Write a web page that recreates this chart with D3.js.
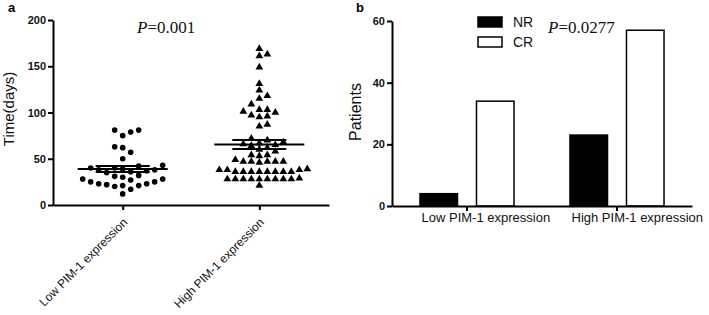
<!DOCTYPE html>
<html>
<head>
<meta charset="utf-8">
<script src="https://cdn.jsdelivr.net/npm/d3@7"></script>
<style>
body { margin: 0; background: #fff; }
</style>
</head>
<body>
<script>
var width = 709, height = 315;

var groups = ["Low PIM-1 expression", "High PIM-1 expression"];
// time (days), panel a
var lowTimes = [81, 79, 75, 81, 57, 62, 63, 50, 43, 42, 40, 40, 39, 38, 38, 37, 36, 35,
    32, 30, 31, 28, 28, 27, 25, 25, 23, 23, 22, 21, 21, 20, 17, 12];
var highTimes = [169, 163, 161, 149, 131, 124, 118, 115, 109, 103, 103, 101, 100, 97, 96, 95, 87, 85,
    72, 70, 68, 67, 66, 65, 64, 62, 60, 58,
    54, 54, 53, 49, 47, 47, 47, 47, 47, 46,
    39, 38, 38, 36, 36, 36, 36, 36, 36, 36, 36, 38,
    29, 28, 28, 28, 28, 28, 28, 28, 28, 28, 21];
var yTicksA = [0, 50, 100, 150, 200];

// patients, panel b
var responses = ["NR", "CR"];
var nrCounts = [4, 23];
var crCounts = [34, 57];
var yTicksB = [0, 20, 40, 60];

var sans = "'Liberation Sans', Arial, sans-serif";
var narrow = "'Liberation Sans Narrow', 'Liberation Sans', sans-serif";
var serif = "'Liberation Serif', 'Times New Roman', serif";

var svg = d3.select("body").append("svg")
    .attr("width", width)
    .attr("height", height)
    .style("font-family", sans);

// ---------- panel a ----------
var xA = d3.scalePoint().domain(groups).range([53, 329]).padding(0.51);
var yA = d3.scaleLinear().domain([0, 200]).range([205, 20]);

var gA = svg.append("g");

gA.append("text").text("a")
    .attr("x", 8).attr("y", 12)
    .style("font-size", "13px").style("font-weight", "bold");

gA.append("text").text("Time(days)")
    .attr("transform", "translate(14,109) rotate(-90)")
    .attr("text-anchor", "middle")
    .style("font-family", narrow)
    .style("font-size", "15px")
    .attr("fill", "#111");

var pA = gA.append("text")
    .attr("x", 137).attr("y", 33)
    .style("font-family", serif)
    .style("font-size", "17px")
    .attr("fill", "#111");
pA.append("tspan").text("P").style("font-style", "italic");
pA.append("tspan").text("=0.001");

var yAxisA = gA.append("g")
    .attr("transform", "translate(53,0)")
    .call(d3.axisLeft(yA).tickValues(yTicksA).tickSize(5).tickSizeOuter(0).tickPadding(2));

var xAxisA = gA.append("g")
    .attr("transform", "translate(0,205)")
    .call(d3.axisBottom(xA).tickSize(5).tickSizeOuter(0));

xAxisA.selectAll("text")
    .attr("x", 0).attr("y", 0).attr("dy", 0)
    .attr("text-anchor", "end")
    .style("font-size", "12px")
    .attr("transform", "translate(5,18) rotate(-45)");

// simple beeswarm: spread points sideways until they stop overlapping
function swarm(values, cx, gapX, gapY) {
    var placed = [];
    var order = d3.range(values.length).sort(function(a, b) { return values[a] - values[b]; });
    order.forEach(function(i) {
        var py = yA(values[i]);
        for (var k = 0; ; k++) {
            var off = (k % 2 ? 1 : -1) * Math.ceil(k / 2) * gapX;
            var ok = placed.every(function(p) {
                return Math.abs(p.x - (cx + off)) >= gapX || Math.abs(p.y - py) >= gapY;
            });
            if (ok) { placed.push({x: cx + off, y: py}); break; }
        }
    });
    return placed;
}

var lowPts = swarm(lowTimes, xA(groups[0]), 8, 8);
var highPts = swarm(highTimes, xA(groups[1]), 8, 6);

gA.selectAll("circle.low")
    .data(lowPts)
    .enter().append("circle")
        .attr("class", "low")
        .attr("cx", function(d) { return d.x; })
        .attr("cy", function(d) { return d.y; })
        .attr("r", 2.8)
        .attr("fill", "#000");

gA.selectAll("path.high")
    .data(highPts)
    .enter().append("path")
        .attr("class", "high")
        .attr("d", d3.symbol().type(d3.symbolTriangle).size(26))
        .attr("transform", function(d) { return "translate(" + d.x + "," + d.y + ")"; })
        .attr("fill", "#000");

// mean +/- SEM
[lowTimes, highTimes].forEach(function(vals, i) {
    var cx = xA(groups[i]);
    var m = d3.mean(vals);
    var sem = d3.deviation(vals) / Math.sqrt(vals.length);
    var g = gA.append("g").attr("stroke", "#000").attr("stroke-width", 2);
    g.append("line")
        .attr("x1", cx - 45).attr("x2", cx + 45)
        .attr("y1", yA(m)).attr("y2", yA(m));
    g.append("line")
        .attr("x1", cx).attr("x2", cx)
        .attr("y1", yA(m - sem)).attr("y2", yA(m + sem));
    [m - sem, m + sem].forEach(function(v) {
        g.append("line")
            .attr("x1", cx - 27).attr("x2", cx + 27)
            .attr("y1", yA(v)).attr("y2", yA(v));
    });
});

// ---------- panel b ----------
var x0 = d3.scaleBand().domain(groups).range([392, 692]);
var x1 = d3.scaleBand().domain(responses).range([0, x0.bandwidth()])
    .paddingInner(0.336).paddingOuter(0.495);
var yB = d3.scaleLinear().domain([0, 60]).range([206, 21]);

var gB = svg.append("g");

gB.append("text").text("b")
    .attr("x", 356).attr("y", 12)
    .style("font-size", "13px").style("font-weight", "bold");

gB.append("text").text("Patients")
    .attr("transform", "translate(361,112) rotate(-90)")
    .attr("text-anchor", "middle")
    .style("font-size", "16px")
    .attr("fill", "#111");

var barData = [];
groups.forEach(function(g, i) {
    barData.push({group: g, resp: "NR", value: nrCounts[i]});
    barData.push({group: g, resp: "CR", value: crCounts[i]});
});

gB.selectAll("rect.bar")
    .data(barData)
    .enter().append("rect")
        .attr("class", "bar")
        .attr("x", function(d) { return x0(d.group) + x1(d.resp); })
        .attr("y", function(d) { return yB(d.value); })
        .attr("width", x1.bandwidth())
        .attr("height", function(d) { return yB(0) - yB(d.value); })
        .attr("fill", function(d) { return d.resp == "NR" ? "#000" : "#fff"; })
        .attr("stroke", "#000")
        .attr("stroke-width", 1.5);

var yAxisB = gB.append("g")
    .attr("transform", "translate(392,0)")
    .call(d3.axisLeft(yB).tickValues(yTicksB).tickSize(5).tickSizeOuter(0).tickPadding(2));

var xAxisB = gB.append("g")
    .attr("transform", "translate(0,206)")
    .call(d3.axisBottom(x0).tickSize(5).tickSizeOuter(0));

xAxisB.selectAll("text")
    .attr("x", -45.5).attr("y", 16).attr("dy", 0)
    .attr("text-anchor", "start")
    .style("font-size", "13px");

// legend
var legend = gB.selectAll("g.legend")
    .data(responses)
    .enter().append("g")
        .attr("class", "legend")
        .attr("transform", function(d, i) { return "translate(478," + (17 + i * 20) + ")"; });
legend.append("rect")
    .attr("width", 24).attr("height", 10)
    .attr("fill", function(d) { return d == "NR" ? "#000" : "#fff"; })
    .attr("stroke", "#000").attr("stroke-width", 1.5);
legend.append("text")
    .text(function(d) { return d; })
    .attr("x", 35).attr("y", 10)
    .style("font-size", "14px")
    .attr("fill", "#111");

var pB = gB.append("text")
    .attr("x", 548).attr("y", 33)
    .style("font-family", serif)
    .style("font-size", "17px")
    .attr("fill", "#111");
pB.append("tspan").text("P").style("font-style", "italic");
pB.append("tspan").text("=0.0277");

// shared axis styling
svg.selectAll(".domain, .tick line")
    .attr("stroke", "#000")
    .attr("stroke-width", 2);
[yAxisA, yAxisB].forEach(function(ax) {
    ax.selectAll("text")
        .style("font-size", "11px")
        .style("font-weight", "bold")
        .style("font-family", sans);
});
svg.selectAll(".tick text").attr("fill", "#111");
</script>
</body>
</html>
